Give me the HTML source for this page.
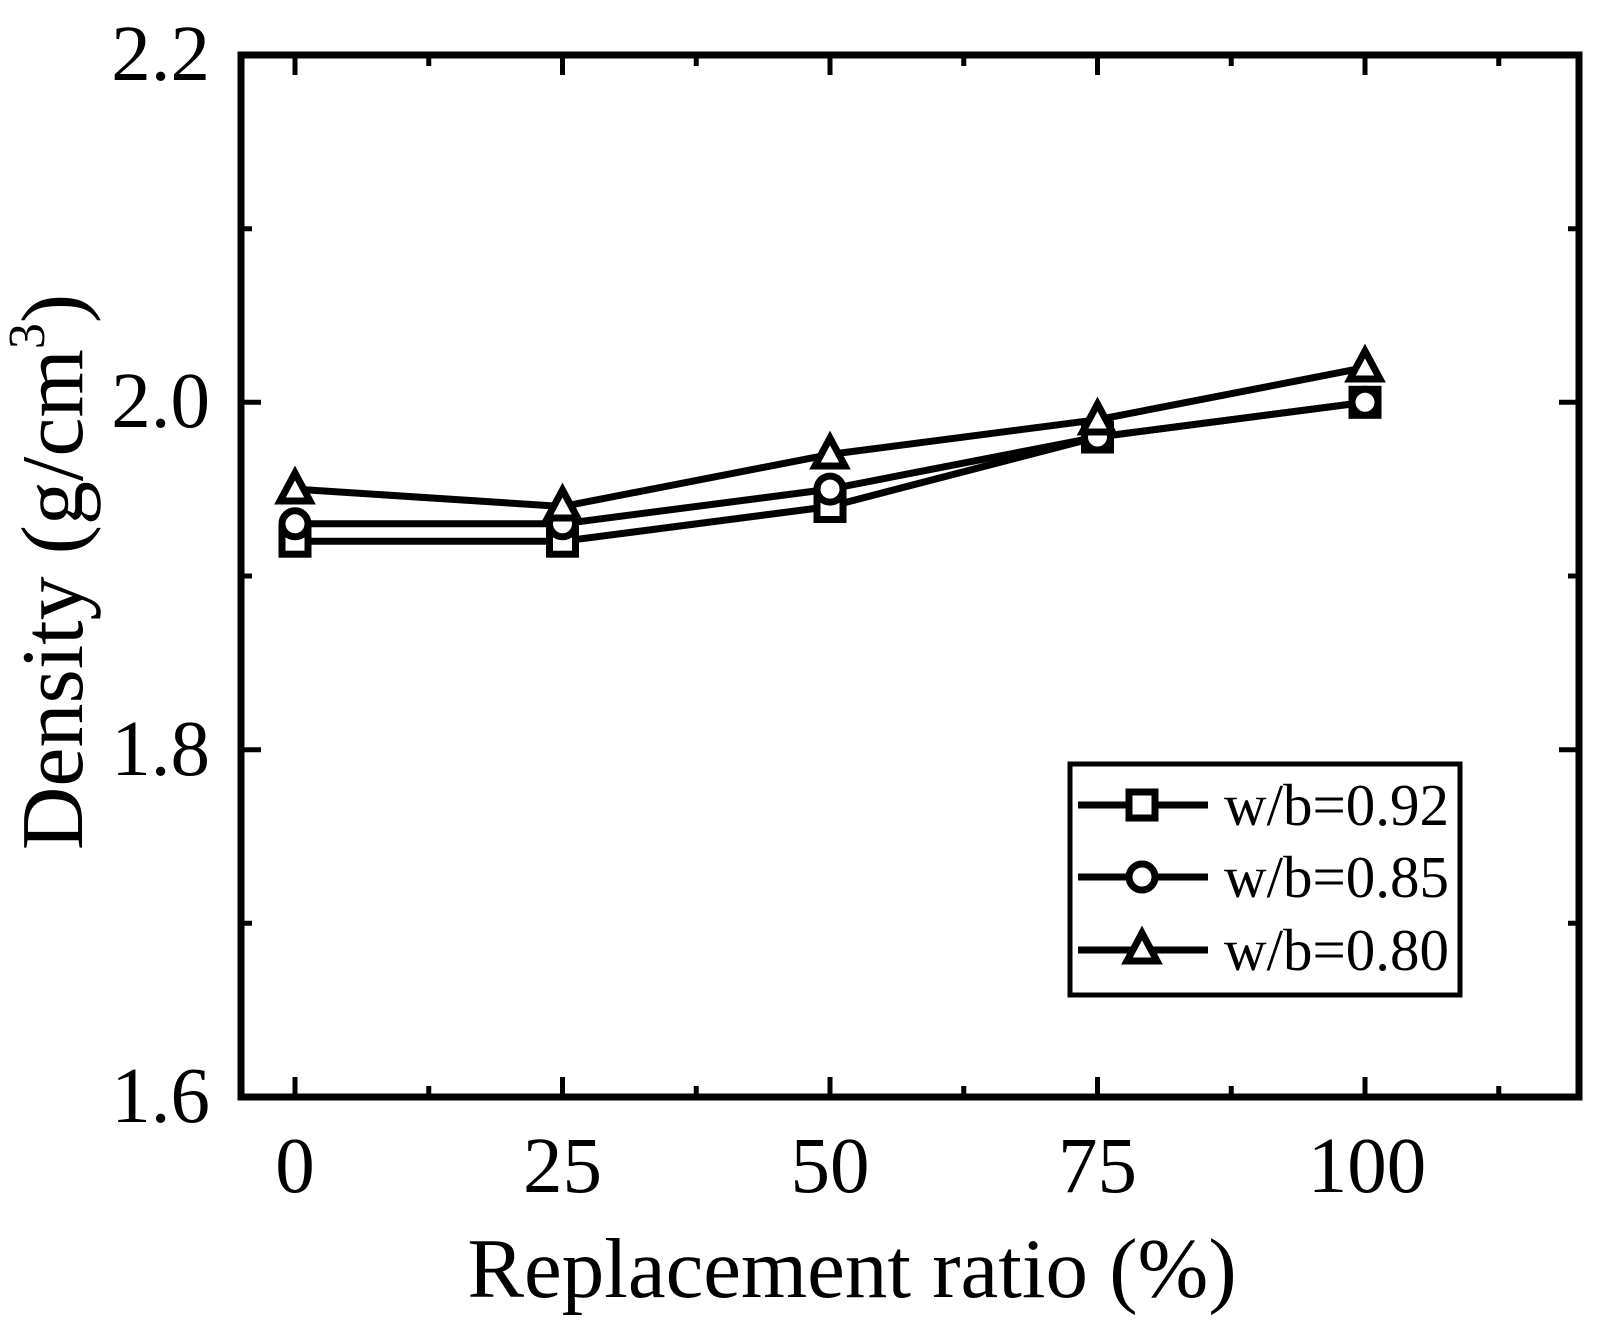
<!DOCTYPE html>
<html><head><meta charset="utf-8"><style>
html,body{margin:0;padding:0;background:#fff;}
svg{display:block;}
text{font-family:"Liberation Serif",serif;fill:#000;}
</style></head><body>
<svg width="1611" height="1324" viewBox="0 0 1611 1324" xmlns="http://www.w3.org/2000/svg">
<g stroke="#000" stroke-width="5" fill="none">
<path d="M295 1097v-20M562.5 1097v-20M830 1097v-20M1097.5 1097v-20M1365 1097v-20
M428.75 1097v-11M696.25 1097v-11M963.75 1097v-11M1231.25 1097v-11M1498.75 1097v-11
M295 55v20M562.5 55v20M830 55v20M1097.5 55v20M1365 55v20
M428.75 55v11M696.25 55v11M963.75 55v11M1231.25 55v11M1498.75 55v11"/>
<path d="M241 55h20M241 402.3h20M241 749.7h20M241 228.7h11M241 576h11M241 923.3h11
M1579 55h-20M1579 402.3h-20M1579 749.7h-20M1579 228.7h-11M1579 576h-11M1579 923.3h-11"/>
</g>
<rect x="241" y="55" width="1338" height="1042" fill="none" stroke="#000" stroke-width="7"/>
<g stroke="#000" stroke-width="7" fill="none" stroke-linejoin="round">
<polyline points="295,541.2 562.5,541.2 830,506.5 1097.5,437 1365,402.3"/>
<polyline points="295,523.8 562.5,523.8 830,489.1 1097.5,437 1365,402.3"/>
<polyline points="295,489.1 562.5,506.5 830,454.4 1097.5,419.7 1365,367.6"/>
</g>
<g stroke="#000" stroke-width="7" fill="#fff">
<rect x="282" y="528.2" width="26" height="26"/><rect x="549.5" y="528.2" width="26" height="26"/><rect x="817" y="493.5" width="26" height="26"/><rect x="1084.5" y="424" width="26" height="26"/><rect x="1352" y="389.3" width="26" height="26"/>
<circle cx="295" cy="523.8" r="13"/><circle cx="562.5" cy="523.8" r="13"/><circle cx="830" cy="489.1" r="13"/><circle cx="1097.5" cy="437" r="13"/><circle cx="1365" cy="402.3" r="13"/>
<polygon points="295,473 310,501 280,501"/><polygon points="562.5,490 577.5,518 547.5,518"/><polygon points="830,438 845,466 815,466"/><polygon points="1097.5,404 1112.5,432 1082.5,432"/><polygon points="1365,351 1380,379 1350,379"/>
</g>
<rect x="1070" y="764" width="390" height="231" fill="#fff" stroke="#000" stroke-width="5"/>
<g stroke="#000" stroke-width="7" fill="#fff">
<path d="M1078 805h130M1078 877h130M1078 950h130"/>
<rect x="1129" y="792" width="26" height="26"/>
<circle cx="1142" cy="877" r="13"/>
<polygon points="1142,933 1157,961 1127,961"/>
</g>
<g font-size="59">
<text x="1224" y="825">w/b=0.92</text>
<text x="1224" y="897">w/b=0.85</text>
<text x="1224" y="970">w/b=0.80</text>
</g>
<g font-size="79" text-anchor="end">
<text x="210" y="80">2.2</text>
<text x="210" y="427">2.0</text>
<text x="210" y="775">1.8</text>
<text x="210" y="1122">1.6</text>
</g>
<g font-size="79" text-anchor="middle">
<text x="295" y="1192">0</text>
<text x="562.5" y="1192">25</text>
<text x="830" y="1192">50</text>
<text x="1097.5" y="1192">75</text>
<text x="1367" y="1192">100</text>
</g>
<text x="852" y="1297" font-size="85" text-anchor="middle">Replacement ratio (%)</text>
<text transform="translate(82,572) rotate(-90)" font-size="88" text-anchor="middle">Density (g/cm<tspan font-size="52" dy="-38">3</tspan><tspan dy="38">)</tspan></text>
</svg>
</body></html>
